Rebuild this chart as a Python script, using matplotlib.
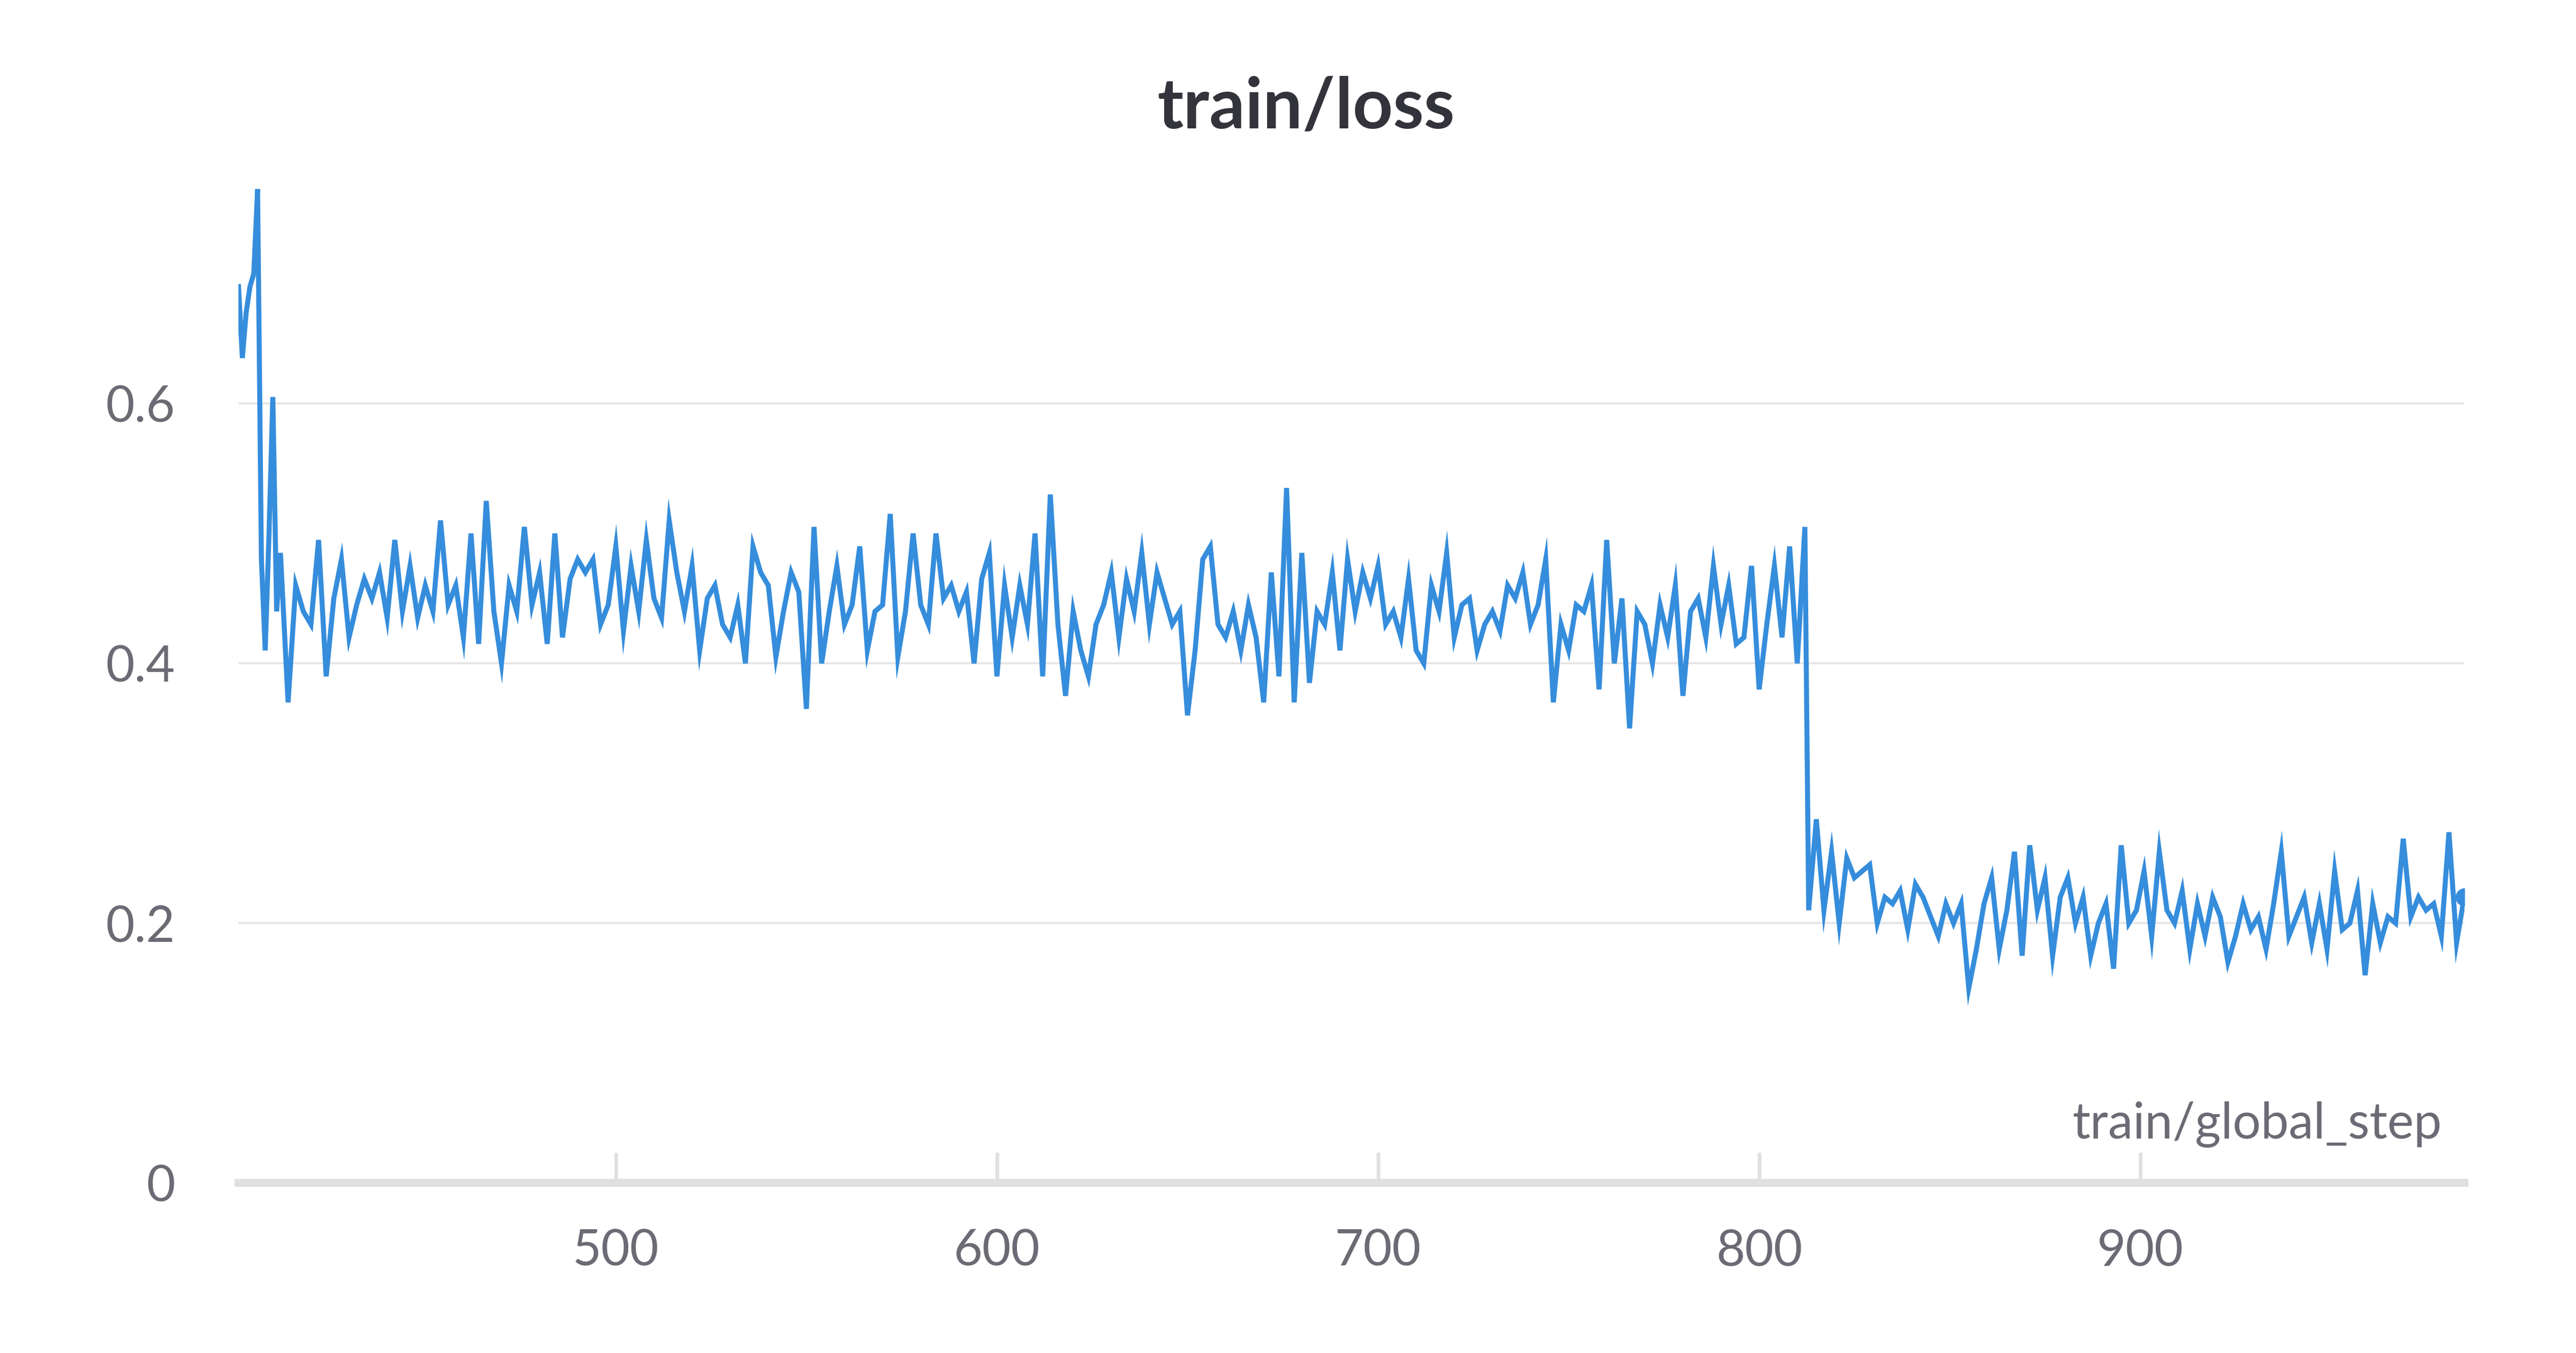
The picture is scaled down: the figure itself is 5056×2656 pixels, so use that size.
import matplotlib
matplotlib.use("Agg")
import matplotlib.pyplot as plt
import numpy as np

steps_a = list(range(401, 413))
loss_a = [0.69, 0.635, 0.67, 0.69, 0.70, 0.765, 0.48, 0.41, 0.50, 0.605, 0.44, 0.485]

steps_b = list(range(414, 813, 2))
loss_b = [
    0.37, 0.46, 0.44, 0.43, 0.495, 0.39, 0.45, 0.48, 0.42, 0.445, 0.465, 0.45, 0.47, 0.435, 0.495, 0.44, 0.475, 0.435, 0.46, 0.44,
    0.51, 0.445, 0.46, 0.42, 0.50, 0.415, 0.525, 0.44, 0.40, 0.46, 0.44, 0.505, 0.445, 0.47, 0.415, 0.50, 0.42, 0.465, 0.48, 0.47,
    0.48, 0.43, 0.445, 0.49, 0.425, 0.475, 0.44, 0.495, 0.45, 0.435, 0.51, 0.47, 0.44, 0.475, 0.41, 0.45, 0.46, 0.43, 0.42, 0.445,
    0.40, 0.49, 0.47, 0.46, 0.405, 0.44, 0.47, 0.455, 0.365, 0.505, 0.40, 0.44, 0.475, 0.43, 0.445, 0.49, 0.41, 0.44, 0.445, 0.515,
    0.405, 0.44, 0.50, 0.445, 0.43, 0.50, 0.45, 0.46, 0.44, 0.455, 0.40, 0.465, 0.485, 0.39, 0.46, 0.42, 0.46, 0.43, 0.50, 0.39,
    0.53, 0.43, 0.375, 0.44, 0.41, 0.39, 0.43, 0.445, 0.47, 0.42, 0.465, 0.44, 0.485, 0.43, 0.47, 0.45, 0.43, 0.44, 0.36, 0.41,
    0.48, 0.49, 0.43, 0.42, 0.44, 0.41, 0.445, 0.42, 0.37, 0.47, 0.39, 0.535, 0.37, 0.485, 0.385, 0.44, 0.43, 0.47, 0.41, 0.48,
    0.44, 0.47, 0.45, 0.475, 0.43, 0.44, 0.42, 0.465, 0.41, 0.40, 0.46, 0.44, 0.485, 0.42, 0.445, 0.45, 0.41, 0.43, 0.44, 0.425,
    0.46, 0.45, 0.47, 0.43, 0.445, 0.48, 0.37, 0.43, 0.41, 0.445, 0.44, 0.46, 0.38, 0.495, 0.40, 0.45, 0.35, 0.44, 0.43, 0.40,
    0.445, 0.42, 0.46, 0.375, 0.44, 0.45, 0.42, 0.475, 0.43, 0.46, 0.415, 0.42, 0.475, 0.38, 0.43, 0.475, 0.42, 0.49, 0.40, 0.505,
]

steps_c = list(range(813, 986, 2))
loss_c = [
    0.21, 0.28, 0.21, 0.255, 0.20, 0.25, 0.235, 0.24, 0.245, 0.20, 0.22, 0.215, 0.225, 0.195, 0.23, 0.22, 0.205, 0.19, 0.215, 0.20,
    0.215, 0.15, 0.18, 0.215, 0.235, 0.18, 0.21, 0.255, 0.175, 0.26, 0.21, 0.235, 0.175, 0.22, 0.235, 0.20, 0.22, 0.175, 0.20, 0.215,
    0.165, 0.26, 0.20, 0.21, 0.24, 0.19, 0.255, 0.21, 0.20, 0.225, 0.18, 0.215, 0.19, 0.22, 0.205, 0.17, 0.19, 0.215, 0.195, 0.205,
    0.18, 0.215, 0.255, 0.19, 0.205, 0.22, 0.185, 0.215, 0.18, 0.24, 0.195, 0.20, 0.225, 0.16, 0.215, 0.185, 0.205, 0.20, 0.265, 0.205,
    0.22, 0.21, 0.215, 0.19, 0.27, 0.185, 0.22,
]

steps = steps_a + steps_b + steps_c
loss = loss_a + loss_b + loss_c

x_ticks = [500, 600, 700, 800, 900]
y_ticks = [0, 0.2, 0.4, 0.6]
y_tick_labels = ["0", "0.2", "0.4", "0.6"]

plt.rcParams['font.family'] = ['Lato', 'DejaVu Sans']
fig = plt.figure(figsize=(15.8, 8.3), dpi=320)
ax = fig.add_axes([0.0926, 0.1256, 0.864, 0.749])
color = "#358ddc"
ax.plot(steps, loss, color=color, lw=2.2, solid_joinstyle="miter")
ax.plot([steps[-1]], [loss[-1]], "o", color=color, ms=7)

ax.set_xlim(401, 985)
ax.set_ylim(0, 0.78)
for s in ax.spines.values():
    s.set_visible(False)
ax.axhline(0, color="#e0e0e0", lw=3.5, zorder=0, clip_on=False)
for y in y_ticks[1:]:
    ax.axhline(y, color="#e6e6e6", lw=0.9, zorder=0)
ax.set_yticks(y_ticks)
ax.set_yticklabels(y_tick_labels)
ax.set_xticks(x_ticks)
ax.tick_params(axis="y", length=0, pad=28, labelsize=22, labelcolor="#6b6b75")
ax.tick_params(axis="x", length=0, pad=20, labelsize=22, labelcolor="#6b6b75")
for xt in x_ticks:
    ax.plot([xt, xt], [0, 0.022], color="#e0e0e0", lw=1.6, zorder=0)
ax.text(0.99, 0.035, "train/global_step", transform=ax.transAxes, ha="right",
        va="bottom", fontsize=22, color="#6b6b75")
fig.text(0.507, 0.92, "train/loss", ha="center", va="center", fontsize=31,
         fontweight="bold", color="#33333b")
fig.savefig("out.png", dpi=320)
